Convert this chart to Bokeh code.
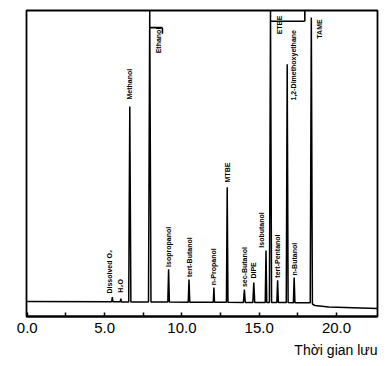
import numpy as np
from bokeh.plotting import figure
from bokeh.models import Range1d, FixedTicker, PrintfTickFormatter, Title, ColumnDataSource
from bokeh.core.properties import value
from bokeh.embed import file_html
from bokeh.resources import INLINE

# --- data ---
peak_names = ["Dissolved O\u2082", "H\u2082O", "Methanol", "Ethanol", "Isopropanol",
              "tert-Butanol", "n-Propanol", "MTBE", "sec-Butanol", "DIPE", "Isobutanol",
              "ETBE", "tert-Pentanol", "1,2-Dimethoxyethane", "n-Butanol", "TAME"]
peak_time = [5.50, 6.05, 6.63, 7.92, 9.14, 10.46, 12.07, 12.93, 14.04, 14.65, 15.44,
             15.73, 16.19, 16.81, 17.26, 18.37]
peak_top = [6.3, 5.8, 68.6, 100.0, 15.4, 12.1, 9.5, 42.2, 8.8, 11.1, 21.6,
            100.0, 11.8, 82.4, 12.7, 97.7]
peak_halfwidth = [0.04, 0.04, 0.07, 0.08, 0.05, 0.05, 0.04, 0.05, 0.06, 0.06, 0.05,
                  0.07, 0.05, 0.06, 0.05, 0.07]
base_time = [0.0, 10.0, 18.3, 18.6, 19.5, 22.65]
base_level = [4.9, 4.7, 4.5, 3.6, 3.1, 2.6]

x_ticks = [0, 5, 10, 15, 20]
x_minor = [2.5, 7.5, 12.5, 17.5]
x_title = "Th\u1eddi gian l\u01b0u"

# label anchors (time, bottom of rotated text)
label_x = [5.35, 6.03, 6.61, 8.49, 9.12, 10.46, 12.05, 12.93, 14.02, 14.65, 15.18,
           16.29, 16.19, 17.24, 17.30, 18.88]
label_y = [7.5, 7.8, 70.9, 86.0, 16.2, 12.9, 10.2, 43.8, 9.6, 12.4, 22.5,
           92.2, 12.7, 70.6, 13.4, 90.8]

# off-scale markers (brackets)
brk_x0 = [7.92, 8.74, 15.73, 17.95]
brk_y0 = [94.4, 94.4, 96.5, 96.5]
brk_x1 = [8.74, 8.74, 17.95, 17.95]
brk_y1 = [94.4, 92.4, 96.5, 100.0]

# --- build trace from peaks on baseline ---
xs = [0.0]
ys = [float(np.interp(0.0, base_time, base_level))]
for t, h, w in zip(peak_time, peak_top, peak_halfwidth):
    for xx, top in ((t - w, None), (t, h), (t + w, None)):
        xs.append(xx)
        ys.append(top if top is not None else float(np.interp(xx, base_time, base_level)))
for bt, bl in zip(base_time, base_level):
    if bt > xs[-1]:
        xs.append(bt)
        ys.append(bl)

p = figure(frame_width=351, frame_height=306, output_backend="svg", toolbar_location=None,
           x_range=Range1d(-0.05, 22.65), y_range=Range1d(0, 100),
           min_border_left=26, min_border_right=4, min_border_top=10, min_border_bottom=0,
           background_fill_color="white", border_fill_color="white")
p.grid.visible = False
p.yaxis.visible = False
p.outline_line_color = "black"
p.outline_line_width = 1.8

p.line(xs, ys, line_color="black", line_width=1.5)
p.segment(x0=brk_x0, y0=brk_y0, x1=brk_x1, y1=brk_y1, line_color="black", line_width=1.6)

src = ColumnDataSource(dict(x=label_x, y=label_y, t=peak_names))
p.text(x="x", y="y", text="t", source=src, angle=np.pi / 2, text_align="left",
       text_baseline="middle", text_font=value("Liberation Sans"), text_font_size="7px",
       text_font_style="bold", text_color="black")

ax = p.xaxis[0]
ax.ticker = FixedTicker(ticks=x_ticks, minor_ticks=x_minor)
ax.formatter = PrintfTickFormatter(format="%.1f")
ax.major_tick_in = 4
ax.major_tick_out = 0
ax.minor_tick_in = 4
ax.minor_tick_out = 0
ax.major_tick_line_width = 1.5
ax.minor_tick_line_width = 1.5
ax.axis_line_width = 1.8
ax.major_label_standoff = 6
ax.major_label_text_font = "Liberation Sans"
ax.major_label_text_font_size = "15px"
ax.major_label_text_color = "black"

p.add_layout(Title(text=x_title, align="right", text_font="Liberation Sans",
                   text_font_size="14px", text_font_style="normal", text_color="black",
                   standoff=9),
             "below")

open("out.html", "w").write(file_html(p, INLINE))
